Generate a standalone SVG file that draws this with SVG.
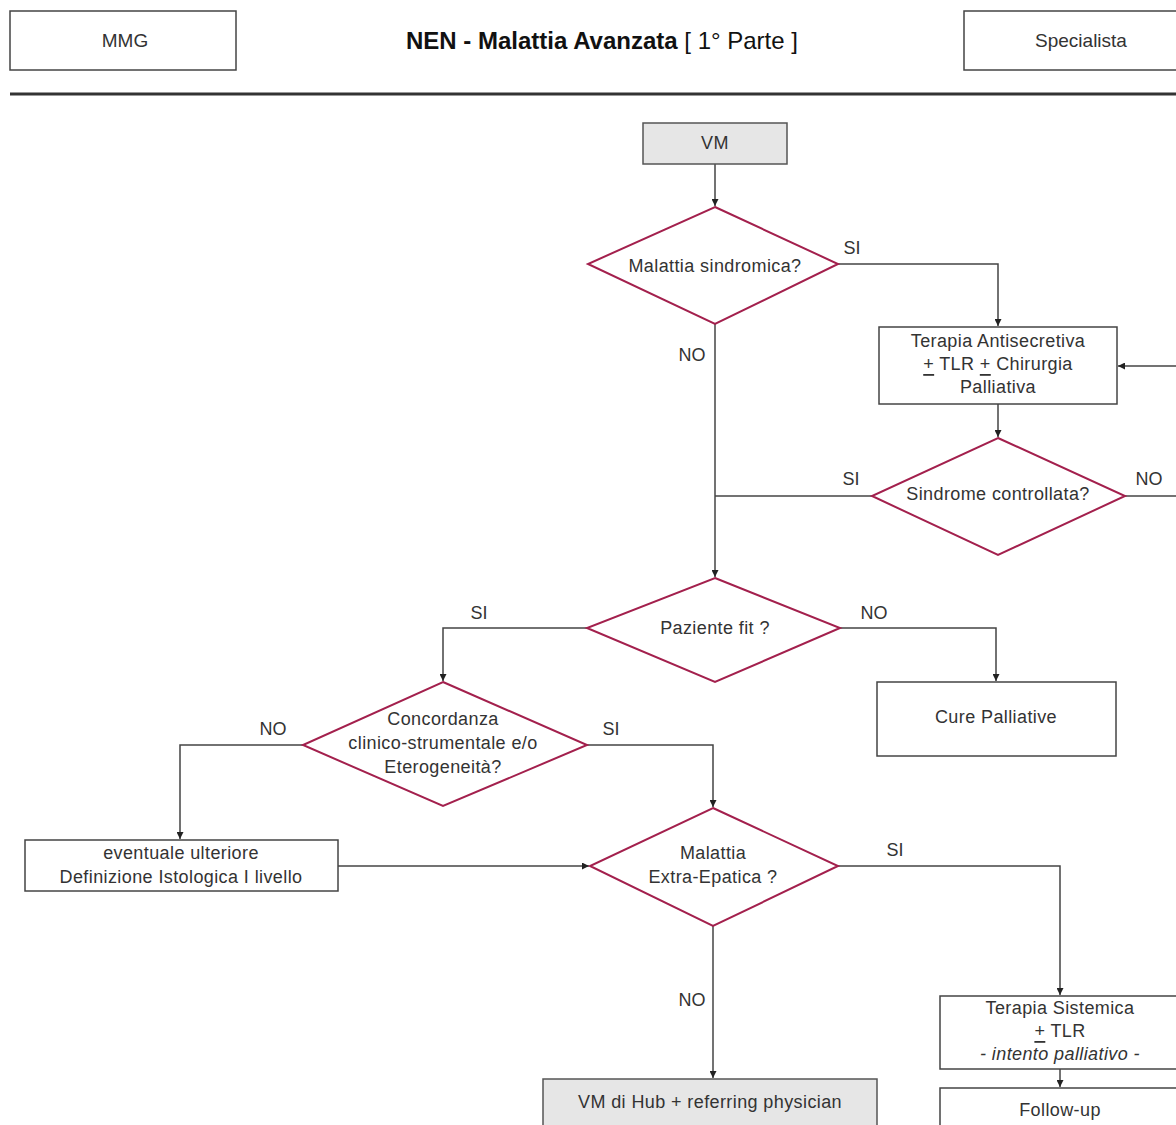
<svg xmlns="http://www.w3.org/2000/svg" width="1176" height="1125" viewBox="0 0 1176 1125">
<defs>
<marker id="ah" viewBox="0 0 10 10" refX="10" refY="5" markerWidth="7" markerHeight="7" orient="auto" markerUnits="userSpaceOnUse">
<path d="M0,0 L10,5 L0,10 z" fill="#222"/>
</marker>
<style>
.box{fill:#fff;stroke:#444;stroke-width:1.5}
.gray{fill:#e6e6e6;stroke:#555;stroke-width:1.5}
.dia{fill:#fff;stroke:#a3204d;stroke-width:2}
.t{font-family:"Liberation Sans",Arial,sans-serif;font-size:18px;letter-spacing:0.4px;fill:#333;text-anchor:middle;dominant-baseline:central}
.h{font-family:"Liberation Sans",Arial,sans-serif;font-size:19px;fill:#333;text-anchor:middle;dominant-baseline:central}
.lbl{font-family:"Liberation Sans",Arial,sans-serif;font-size:18px;fill:#333;text-anchor:middle;dominant-baseline:central}
.c{fill:none;stroke:#444;stroke-width:1.5}
</style>
</defs>
<rect width="1176" height="1125" fill="#fff"/>

<g id="header">
<rect x="10" y="11" width="226" height="59" class="box"/>
<text x="125" y="40" class="h">MMG</text>
<text x="602" y="40" font-family="Liberation Sans, Arial, sans-serif" font-size="24" fill="#111" text-anchor="middle" dominant-baseline="central"><tspan font-weight="bold">NEN - Malattia Avanzata</tspan> [ 1° Parte ]</text>
<rect x="964" y="11" width="220" height="59" class="box"/>
<text x="1081" y="40" class="h">Specialista</text>
<line x1="10" y1="94" x2="1176" y2="94" stroke="#333" stroke-width="3"/>
</g>

<g id="connectors">
<path d="M715,164 V206" class="c" marker-end="url(#ah)"/>
<path d="M838,264 H998 V326" class="c" marker-end="url(#ah)"/>
<path d="M715,324 V577" class="c" marker-end="url(#ah)"/>
<path d="M1176,366 H1118" class="c" marker-end="url(#ah)"/>
<path d="M998,404 V437" class="c" marker-end="url(#ah)"/>
<path d="M872,496 H715" class="c"/>
<path d="M1125,496 H1176" class="c"/>
<path d="M587,628 H443 V681" class="c" marker-end="url(#ah)"/>
<path d="M840,628 H996 V681" class="c" marker-end="url(#ah)"/>
<path d="M303,745 H180 V839" class="c" marker-end="url(#ah)"/>
<path d="M587,745 H713 V807" class="c" marker-end="url(#ah)"/>
<path d="M338,866 H589" class="c" marker-end="url(#ah)"/>
<path d="M838,866 H1060 V995" class="c" marker-end="url(#ah)"/>
<path d="M713,926 V1078" class="c" marker-end="url(#ah)"/>
<path d="M1060,1069 V1087" class="c" marker-end="url(#ah)"/>
<text x="852" y="248" class="lbl">SI</text>
<text x="692" y="355" class="lbl">NO</text>
<text x="851" y="479" class="lbl">SI</text>
<text x="1149" y="479" class="lbl">NO</text>
<text x="479" y="613" class="lbl">SI</text>
<text x="874" y="613" class="lbl">NO</text>
<text x="273" y="729" class="lbl">NO</text>
<text x="611" y="729" class="lbl">SI</text>
<text x="895" y="850" class="lbl">SI</text>
<text x="692" y="1000" class="lbl">NO</text>
</g>

<g id="vm">
<rect x="643" y="123" width="144" height="41" class="gray"/>
<text x="715" y="143" class="t">VM</text>
</g>

<g id="malattia-sindromica">
<polygon points="715,207 838,264 715,324 588,264" class="dia"/>
<text x="715" y="266" class="t">Malattia sindromica?</text>
</g>

<g id="terapia-antisecretiva">
<rect x="879" y="327" width="238" height="77" class="box"/>
<text x="998" y="341" class="t">Terapia Antisecretiva</text>
<text x="998" y="364" class="t"><tspan text-decoration="underline">+</tspan> TLR <tspan text-decoration="underline">+</tspan> Chirurgia</text>
<text x="998" y="387" class="t">Palliativa</text>
</g>

<g id="sindrome-controllata">
<polygon points="998,438 1125,496 998,555 872,496" class="dia"/>
<text x="998" y="494" class="t">Sindrome controllata?</text>
</g>

<g id="paziente-fit">
<polygon points="715,578 840,628 715,682 587,628" class="dia"/>
<text x="715" y="628" class="t">Paziente fit ?</text>
</g>

<g id="cure-palliative">
<rect x="877" y="682" width="239" height="74" class="box"/>
<text x="996" y="717" class="t">Cure Palliative</text>
</g>

<g id="concordanza">
<polygon points="443,682 587,745 443,806 303,745" class="dia"/>
<text x="443" y="719" class="t">Concordanza</text>
<text x="443" y="743" class="t">clinico-strumentale e/o</text>
<text x="443" y="767" class="t">Eterogeneità?</text>
</g>

<g id="eventuale">
<rect x="25" y="840" width="313" height="51" class="box"/>
<text x="181" y="853" class="t">eventuale ulteriore</text>
<text x="181" y="877" class="t">Definizione Istologica I livello</text>
</g>

<g id="malattia-extra-epatica">
<polygon points="713,808 838,866 713,926 590,866" class="dia"/>
<text x="713" y="853" class="t">Malattia</text>
<text x="713" y="877" class="t">Extra-Epatica ?</text>
</g>

<g id="vm-hub">
<rect x="543" y="1079" width="334" height="60" class="gray"/>
<text x="710" y="1102" class="t">VM di Hub + referring physician</text>
</g>

<g id="terapia-sistemica">
<rect x="940" y="996" width="250" height="73" class="box"/>
<text x="1060" y="1008" class="t">Terapia Sistemica</text>
<text x="1060" y="1031" class="t"><tspan text-decoration="underline">+</tspan> TLR</text>
<text x="1060" y="1054" class="t" font-style="italic">- intento palliativo -</text>
</g>

<g id="follow-up">
<rect x="940" y="1088" width="250" height="60" class="box"/>
<text x="1060" y="1110" class="t">Follow-up</text>
</g>
</svg>
